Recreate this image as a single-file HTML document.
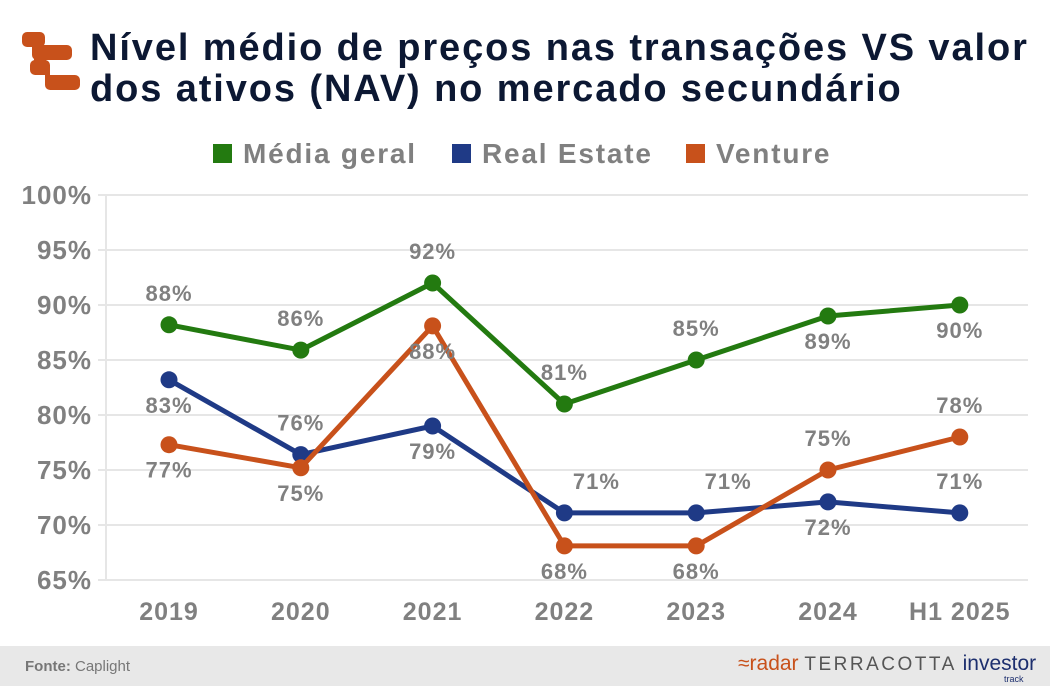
<!DOCTYPE html>
<html><head><meta charset="utf-8"><style>
body{margin:0;width:1050px;height:686px;background:#fff;font-family:"Liberation Sans",sans-serif;overflow:hidden;position:relative}
.title{position:absolute;left:90px;top:28px;font-size:38px;font-weight:bold;color:#0c1833;line-height:41px;letter-spacing:1.9px;white-space:nowrap}
.footer{position:absolute;left:0;top:646px;width:1050px;height:40px;background:#e8e8e8}
</style></head><body>
<svg style="position:absolute;left:0;top:0" width="90" height="100">
<rect x="22" y="32" width="23" height="15" rx="5" fill="#c8511b"/>
<rect x="32" y="45" width="40" height="15" rx="5" fill="#c8511b"/>
<rect x="30" y="60" width="20" height="15" rx="5" fill="#c8511b"/>
<rect x="45" y="75" width="35" height="15" rx="5" fill="#c8511b"/>
<rect x="32" y="40" width="10" height="10" fill="#c8511b"/>
<rect x="34" y="55" width="12" height="10" fill="#c8511b"/>
<rect x="45" y="70" width="5" height="10" fill="#c8511b"/>
</svg>
<div class="title">Nível médio de preços nas transações VS valor<br>dos ativos (NAV) no mercado secundário</div>
<svg id="chart" style="position:absolute;left:0;top:0" width="1050" height="646"></svg>
<div class="footer">
<div style="position:absolute;left:25px;top:12px;font-size:15px;color:#777"><b>Fonte:</b> Caplight</div>
<div style="position:absolute;left:738px;top:6px;font-size:21px;white-space:nowrap">
<span style="color:#c8511b">≈radar</span> <span style="color:#555;letter-spacing:2.5px;font-size:19px">TERRACOTTA</span> <span style="color:#1d2f6e">investor</span>
<span style="position:absolute;left:266px;top:22px;font-size:9px;color:#1d2f6e">track</span></div>
</div>
<script>
const categories=["2019","2020","2021","2022","2023","2024","H1 2025"];
const mediaGeral=[88.2,85.9,92,81,85,89,90];
const realEstate=[83.2,76.4,79,71.1,71.1,72.1,71.1];
const venture=[77.3,75.2,88.1,68.1,68.1,75,78];
const mediaLabels=["88%","86%","92%","81%","85%","89%","90%"];
const realLabels=["83%","76%","79%","71%","71%","72%","71%"];
const ventureLabels=["77%","75%","88%","68%","68%","75%","78%"];
const yTicks=[65,70,75,80,85,90,95,100];
const NS="http://www.w3.org/2000/svg";
const svg=document.getElementById('chart');
function y(v){return 580-(v-65)*11;}
function x(i){return 169+i*131.8;}
function mk(t,a,p){const e=document.createElementNS(NS,t);for(const k in a)e.setAttribute(k,a[k]);(p||svg).appendChild(e);return e;}
yTicks.forEach(v=>{
 const l=mk('line',{x1:98,x2:1028,y1:y(v),y2:y(v),stroke:'#e6e6e6','stroke-width':2});
 
 
 const t=mk('text',{x:92,y:y(v)+9,'text-anchor':'end','font-size':26,'font-weight':'bold',fill:'#808080','letter-spacing':1});
 t.textContent=v+'%';
 
 
});
const ax=mk('line',{x1:106,x2:106,y1:196,y2:580,stroke:'#e6e6e6','stroke-width':2});


categories.forEach((c,i)=>{
 const t=mk('text',{x:x(i),y:620,'text-anchor':'middle','font-size':25,'font-weight':'bold',fill:'#808080','letter-spacing':1});
 t.textContent=c;
 
 
});
const series=[
 {name:'media-geral',vals:mediaGeral,labels:mediaLabels,color:'#237a10',off:[-1,-1,-1,-1,-1,1,1]},
 {name:'real-estate',vals:realEstate,labels:realLabels,color:'#1f3a86',off:[1,-1,1,-1,-1,1,-1]},
 {name:'venture',vals:venture,labels:ventureLabels,color:'#c8511b',off:[1,1,1,1,1,-1,-1]}
];
series.forEach(s=>{
 const pts=s.vals.map((v,i)=>x(i)+','+y(v)).join(' ');
 const pl=mk('polyline',{points:pts,fill:'none',stroke:s.color,'stroke-width':5,'stroke-linejoin':'round'});
 
 
 s.vals.forEach((v,i)=>{
  const c=mk('circle',{cx:x(i),cy:y(v),r:8.5,fill:s.color});
  
  
 });
});
series.forEach(s=>{
 s.vals.forEach((v,i)=>{
  let dx=0;
  if(s.name==='real-estate'&&(i===3||i===4))dx=32;
  const ty=s.off[i]<0?y(v)-24:y(v)+33;
  const t=mk('text',{x:x(i)+dx,y:ty,'text-anchor':'middle','font-size':22,'font-weight':'bold',fill:'#808080','letter-spacing':1});
  t.textContent=s.labels[i];
  
  
 });
});
const legend=[["Média geral","#237a10",213],["Real Estate","#1f3a86",452],["Venture","#c8511b",686]];
legend.forEach(l=>{
 const r=mk('rect',{x:l[2],y:144,width:19,height:19,fill:l[1]});
 
 
 const t=mk('text',{x:l[2]+30,y:163,'font-size':28,'font-weight':'bold',fill:'#808080','letter-spacing':1.8});
 t.textContent=l[0];
 
 
});
</script>
</body></html>
